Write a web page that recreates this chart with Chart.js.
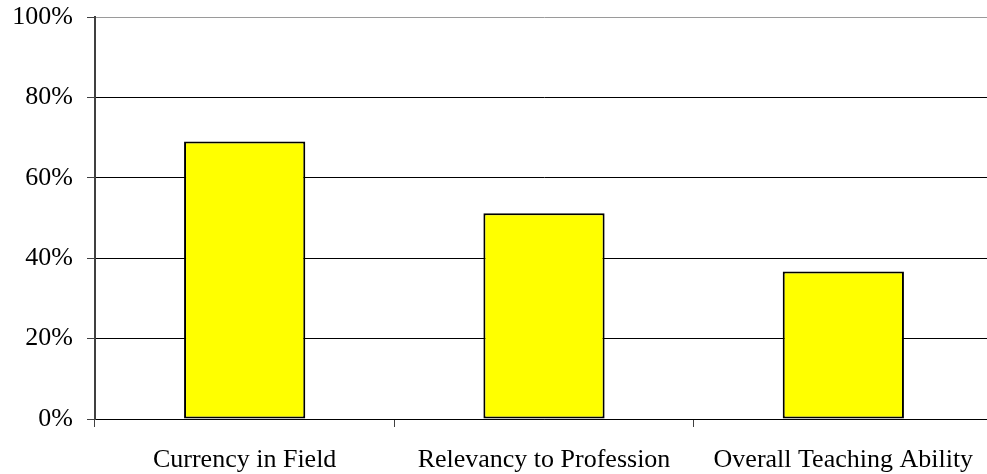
<!DOCTYPE html>
<html>
<head>
<meta charset="utf-8">
<script src="https://cdn.jsdelivr.net/npm/chart.js@4"></script>
<style>
  html, body { margin: 0; padding: 0; background: #fff; overflow: hidden; }
  #wrap { width: 1000px; height: 474px; }
</style>
</head>
<body>
<div id="wrap"><canvas id="c" width="1000" height="474"></canvas></div>
<script>
// Survey ratings by category (percent)
const categories = ["Currency in Field", "Relevancy to Profession", "Overall Teaching Ability"];
const ratings = [69, 51.2, 36.7];
const yTicks = [0, 20, 40, 60, 80, 100];

const serif = "'Liberation Serif', 'Times New Roman', serif";

new Chart(document.getElementById('c'), {
  type: 'bar',
  data: {
    labels: categories,
    datasets: [{
      data: ratings,
      backgroundColor: '#ffff00',
      borderColor: '#000000',
      borderWidth: 2,
      borderSkipped: false,
      categoryPercentage: 1,
      barPercentage: 0.405
    }]
  },
  options: {
    responsive: false,
    animation: false,
    layout: { padding: { top: 17, right: 7, left: 0, bottom: 0 } },
    plugins: { legend: { display: false }, tooltip: { enabled: false } },
    scales: {
      x: {
        grid: {
          offset: true,
          drawOnChartArea: false,
          drawTicks: true,
          tickLength: 8,
          tickColor: '#404040'
        },
        border: { display: true, color: '#000000', width: 1 },
        ticks: {
          color: '#000',
          font: { family: serif, size: 26 },
          padding: 18,
          maxRotation: 0
        },
        afterFit: (s) => { s.height = 55; s.paddingLeft = 0; s.paddingRight = 0; }
      },
      y: {
        min: 0,
        max: 100,
        afterBuildTicks: (s) => { s.ticks = yTicks.map(v => ({ value: v })); },
        grid: {
          color: (ctx) => ctx.tick && ctx.tick.value === 100 ? '#9a9a9a' : '#000000',
          lineWidth: 1,
          drawTicks: true,
          tickLength: 8,
          tickColor: '#404040'
        },
        border: { display: true, color: '#404040', width: 2 },
        ticks: {
          color: '#000',
          font: { family: serif, size: 26 },
          padding: 14,
          callback: (v) => v + '%'
        },
        afterFit: (s) => { s.width = 95; s.paddingTop = 0; s.paddingBottom = 0; }
      }
    }
  }
});
</script>
</body>
</html>
